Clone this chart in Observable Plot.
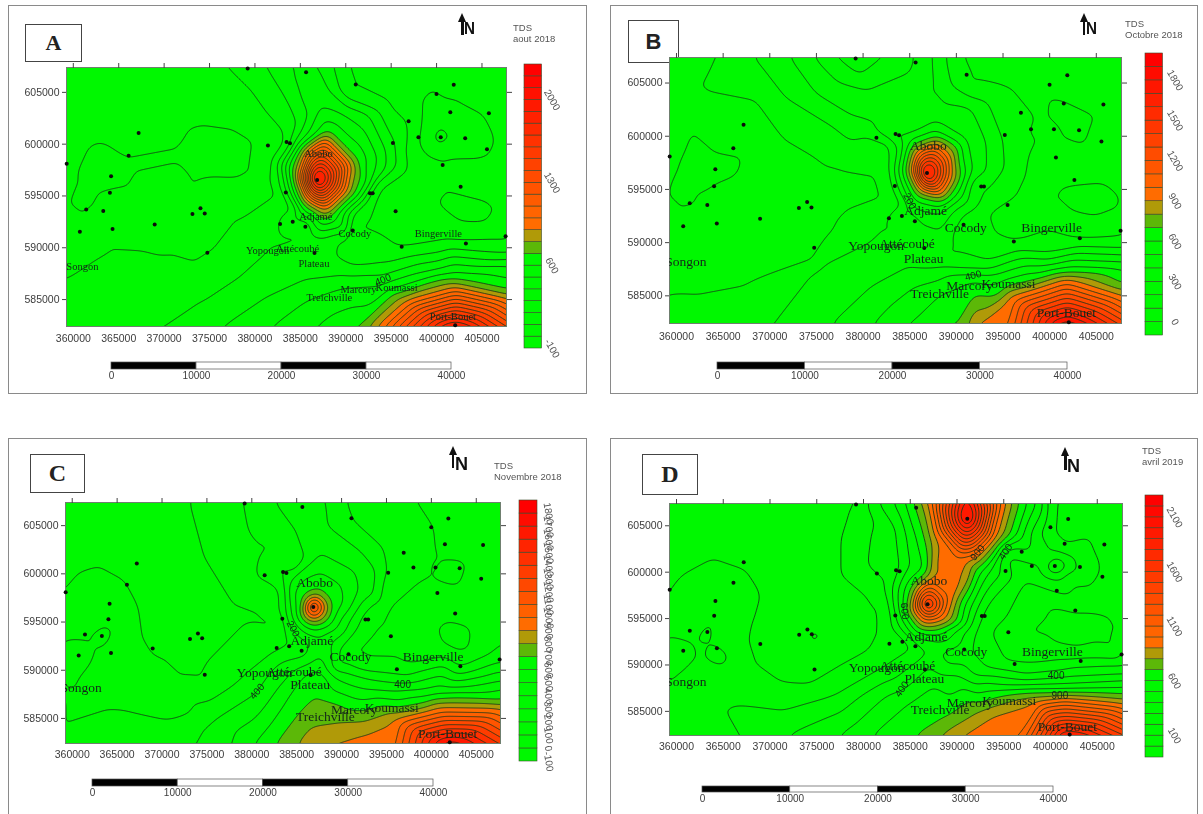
<!DOCTYPE html>
<html><head><meta charset="utf-8">
<script src="https://cdn.jsdelivr.net/npm/d3@7"></script>
<script src="https://cdn.jsdelivr.net/npm/@observablehq/plot@0.6"></script>
<style>
html,body{margin:0;padding:0;background:#fff;width:1203px;height:814px;overflow:hidden;font-family:"Liberation Sans",sans-serif}
#page{position:relative;width:1203px;height:814px;overflow:hidden;filter:blur(.4px)}
.abs{position:absolute}
.abs svg,svg.abs{display:block;background:transparent;overflow:visible}
.frame{position:absolute;border:1.5px solid #8a8a8a;box-sizing:border-box}
.box{position:absolute;border:1px solid #444;box-sizing:border-box;background:#fff;display:flex;align-items:center;justify-content:center;font-weight:bold;color:#222}
.ttl{position:absolute;font-size:9.5px;line-height:11px;color:#555;white-space:nowrap}
.stem{position:absolute;width:2.5px;background:#111}
.head{position:absolute;width:0;height:0;border-left:4px solid transparent;border-right:4px solid transparent;border-bottom:9px solid #111}
.nn{position:absolute;font-weight:bold;color:#111;line-height:1;transform-origin:left top}
</style></head><body><div id="page"></div>
<script>
// ---- shared map data (map coordinates, km) ----
const xTicks = [360000,365000,370000,375000,380000,385000,390000,395000,400000,405000];
const yTicks = [585000,590000,595000,600000,605000];
const stations = [[359.27,598.1],[367.19,601.08],[366.09,598.87],[364.16,596.9],[364.03,595.3],[361.42,593.7],[363.3,593.54],[360.72,591.54],[364.32,591.8],[368.96,592.25],[373.12,593.25],[374,593.82],[374.47,593.31],[374.76,589.52],[379.2,607.3],[381.43,599.86],[383.48,600.2],[383.86,600.09],[385.63,606.93],[386.85,596.55],[383.4,595.33],[382.77,592.3],[384.16,592.5],[385.55,592.02],[386.56,589.5],[391.1,605.77],[390.77,591.67],[392.66,595.27],[392.96,595.27],[395.19,600.12],[395.49,593.53],[396.16,590.1],[396.92,602.2],[398,600.66],[399.99,604.84],[400.46,600.66],[401.89,605.74],[401.51,603.07],[403.15,600.57],[405.76,602.98],[405.55,599.5],[400.67,598],[402.65,595.88],[403.23,590.42],[407.6,591.12],[402.05,582.52]];
const placeNames = ["Songon","Abobo","Adjamé","Yopougon","Attécoubé","Plateau","Cocody","Bingerville","Marcory","Koumassi","Treichville","Port-Bouet"];
const placeX = [361,387,386.7,381.4,384.7,386.5,391,400.2,391.4,395.6,388.2,401.8];
const placeY = [588.2,599.1,593.05,589.7,589.9,588.5,591.4,591.4,585.95,586.15,585.2,583.4];

// ---- panel A: aout 2018. Each entry: contour level, then x,y pairs read along that isoline ----
const contoursA = [
[100,[359.3,594.6,360.5,597.2,361.7,599.4,363.2,600,365.1,598.9,366.6,596.8,366.2,595.5,363.8,595.5,362.6,593.6,361.1,592.7,359.4,593.8]],
[100,[371.8,600,372.7,601.5,374.4,601.9,377.7,601.5,380,600.3,380,597.1,378.1,596.6,375.2,596.7,373,595.4,372,597.8]],
[100,[398.1,600,398.3,604.2,399.4,605.6,401.5,604.2,405,602.6,406.3,600.3,405.3,598.7,400.5,598.7,398.6,599.4]],
[0,[399.3,600.7,400.5,601.9,401.7,600.7,400.5,599.5]],
[100,[399.8,594.7,400.9,595.5,405.9,594.4,406.6,593.3,405.5,592.3,402.6,592.5,400.5,593.8]],
[200,[377.3,607.3,379.4,605.5,381.5,602.9,383.4,601,383.5,600,382,598.1,382.6,595.2,379,593,375.6,594,373.9,593.3,375.8,589.4,373.5,588.1,369.7,589.1,364.7,592.4,363.6,591.4,363.4,589.4,359.3,587]],
[300,[381.4,607.3,383.6,604.2,384,600.2,382.4,598.1,383,595.5,384.5,593.3,385.5,592.3,385.3,590.4,383.6,591.4,382.8,593,381.1,591.4,380.7,589.1,374.4,584.9,364,582.4]],
[300,[388.7,607.3,389.3,605.2,393.7,603.2,395.4,600,395.6,598.1,393.1,596.2,390.8,593.3,389.1,590.7,389.1,589.1,390.8,588.3,394.1,588.5,400.5,589.6,407.7,589.4]],
[200,[390.1,607.3,390.4,605.2,394.6,603.9,396.5,599.4,396.7,597.8,393.5,595.8,392.7,594.2,390.8,591.7,390.8,589.7,395.8,589.9,401.3,590.7,407.7,590.7]],
[400,[383.9,607.3,384.9,604.8,384.5,600.3,382.8,598.1,383.4,595.5,384.9,592.6,387.2,591,389.9,591.4,392.3,595.2,394.4,597.5,394.4,599.4,392.5,602.9,388.3,605.2,387.2,607.3]],
[400,[376.5,582.4,380.7,584.9,385.7,586.9,389.9,587.3,394.1,587.3,398.4,588.5,407.7,588.9]],
[500,[381.9,582.4,385.7,584.9,389.9,586.2,394.1,586.4,399.6,587.8,407.7,588.3]],
[700,[391.6,582.4,396.3,585.6,402.1,586.9,407.7,585.9]],
[900,[393.5,582.4,396.7,584.9,402.1,586.2,407.7,585.1]],
[500,[387.2,603.6,389.9,602.8,393.5,598.7,392.9,596.2,389.9,592,387,591.5,384.7,593.1,383.8,595.8,383.4,598.1,384.7,600]],
[700,[388,601.2,391.2,598.4,391,595.2,388.3,593,385.7,593.9,384.3,596.8,385.3,599.7]],
[900,[387.8,600.7,390.6,598.1,390.1,595.5,387.8,593.6,385.7,594.6,384.7,596.8,385.7,599.4]]
];
const extrasA = [[386.9,596.6,2150],[402,581.8,2100],[363.5,597.5,70],[376,599,70],[403.5,601,70],[399.5,603,70],[403,593.5,70],[400.5,600.7,-20],[370,605,150],[369,595,150],[399,596,150],[405,597,150],[400,606.5,150],[362,586,250],[370,586.5,250],[386,606,450],
[355,612,150],[372,612,160],[380,612,320],[385,612,480],[391,612,180],[410,612,150],[412,595,150],[412,588.5,450],[412,585,900],[412,580,1400],[395,578,1100],[380,578,500],[365,578,320],[353,578,260],[353,595,150]];

// ---- panel B: octobre 2018 ----
const contoursB = [
[100,[359.2,595.3,360.4,597.7,361.6,600.5,363,601.1,365.7,600.2,367.1,598,366.5,596.4,364,595.5,363,594.7,362,593.1,360.4,592.8,359.2,593.9]],
[100,[399.8,594.2,401,595.2,405.9,595.6,407.6,594.2,407.4,592.8,405,592.4,402.3,592.9]],
[200,[399.4,600.6,400.5,601.6,401.6,600.6,400.5,599.6]],
[200,[397.5,600.6,397.8,601.4,398.1,600.6,397.8,599.8]],
[500,[383,600.2,383.6,601,384.3,600.2,383.6,599.5]],
[200,[359.2,605.9,362.8,604.3,368.6,603.3,371.4,599.9,375.1,598,378.4,597.2,381.7,596.7,382.3,595.6,382.7,594.2,382.1,593.6,378.4,592.4,376.8,590.8,374.9,588,367.3,585.8,362.4,585,359.2,585.2]],
[300,[368.4,607.3,371.4,603.9,376,601.4,380.9,600,382.9,599.4,382.9,597,383.3,594.9,384.4,593.3,385.4,592,385.2,590.5,383.8,591.1,382.7,592.7,381.4,592,380.9,590.2,375.1,587.7,370.4,582.4]],
[400,[372.3,607.3,375.1,603.9,378.8,601.9,381.1,600.6,381.7,601.6,382.9,601.7,384.4,600.8,383.8,598.9,383.6,595.8,384.4,593,386.2,591.7,388.3,591.1,391,593.6,393.2,596.7,393.2,599.5,391.6,602.7,387.7,604.5,387.5,607.3]],
[500,[374.9,607.3,377.2,605.2,380.5,604.4,385.2,606.1,385.6,607.3]],
[600,[377.2,607.3,379.3,605.9,382.1,607.3]],
[300,[388.9,607.3,389.5,604.8,393.2,603.3,394.9,599.5,395.1,597,393.2,594.9,392,595.2,390.5,592.7,389.3,590.8,388.3,588.5,393.2,588.2,399.4,588.9,407.7,589.4]],
[200,[390.5,607.3,391.2,604.7,394.9,604.5,399.4,606.2,400.6,603.6,404.7,601.9,403.9,599.2,397.7,598.4,397.3,596.1,393.2,592.7,394,590.8,396.3,590,400.2,591.1,403.5,590.3,407.7,590.6]],
[400,[376.8,582.4,380.9,585.8,385,587.7,388.3,587.8,393.2,587.5,399.4,588.5,407.7,588.9]],
[500,[381.1,582.4,385.4,585.8,389.1,587,393.2,587,399.4,587.8,407.7,588.2]],
[600,[385,582.4,388.3,585.2,391.6,586.4,395.3,586.5,400.2,587.4,407.7,587.5]],
[700,[390.3,582.4,394.4,584.9,398.1,586.4,401.8,587.1,407.7,586.1]],
[900,[392.2,582.4,395.7,584.9,401.8,586.6,407.7,585]],
[500,[387.7,601.3,391,599.5,391.6,596.7,390,593.9,388.3,592.7,385.4,593.3,384.1,595.8,384.1,598,385.6,600.5]],
[700,[387.9,599.9,390.1,598,390.1,595.5,388.3,593.9,385.8,594.4,384.6,596.7,385.6,599.2]],
[900,[387.9,599.4,389.5,598,389.5,596.1,388.3,594.4,386.2,594.9,385.2,596.8,385.8,598.7]]
];
const extrasB = [[386.8,596.5,1850],[401.9,581.8,2000],[363.5,597.5,70],[404,594,70],[400.5,600.6,180],[397.8,600.6,180],[383.6,600.2,560],[379.3,607.3,650],[365,600,150],[370,596,150],[365,592,150],[398,594,150],[405,598,150],[404,605,150],[402,601,250],[364,583.5,240],[379.5,606,620],
[353,610,150],[365,612,170],[372,612,380],[379,612,720],[385,612,480],[390,612,250],[395,612,150],[410,612,150],[412,595,150],[412,588,500],[412,585,900],[412,580,1400],[395,578,1100],[380,578,450],[365,578,280],[353,578,220],[353,595,120]];

// ---- panel C: novembre 2018 ----
const contoursC = [
[200,[359.2,598.1,360.9,600,363,600.6,365.6,599.3,367.1,596.7,367.5,593.9,369,591.5,372,588.9,374.6,588.7,375.6,590.5,374.4,593.2,377.1,594.8,379.7,594.4,382.7,593.9,383,595.3,381,596.5,377.6,597.7,374.6,602.2,373.1,607.4]],
[300,[359.2,593.4,362.4,592.5,362.2,590.5,360.5,588.7,359.2,588.2]],
[300,[362.5,593.2,363.7,594.7,364.7,594.3,364.1,592.9,362.6,592.5]],
[300,[359.2,583.9,365.6,585.8,373.3,586.5,378.4,588.7,382.7,591.9,385.3,592.4,383.8,593.9,383.3,595.7,383.3,598.4,384.4,600.8,382.7,602.9,379.7,604.3,379.1,607.4]],
[400,[368.4,582.4,375.9,584.9,380.6,587.7,382.7,590.5,386.1,591.5,384.8,593.9,383.8,595.7,383.8,598.1,385,600.5,384.8,604.7,382.7,607.4]],
[400,[388.2,607.4,388.5,605,391.9,602.6,394,600.2,393.6,597.7,390.4,593.9,389.1,591.5,390.4,589.8,392.9,589.1,396.4,588.6,403.2,588.9,407.7,589.9]],
[300,[390.4,607.4,391.2,605.3,394.4,602.6,394.7,600.2,393.6,597,392.3,595.7,389.7,591.9,389.5,590.5,392.9,590,397.2,589.4,403.2,589.6,407.7,590.8]],
[200,[398.3,607.4,400.2,604.7,400.4,602.4,403.8,601.2,403,598.8,398.5,599.1,395.1,596.3,393.2,594.6,390.6,591.9,392.9,590.6,397.2,590.5,403.2,590.3,407.7,592.5]],
[100,[400.6,594.3,401.7,595.1,404.5,594.3,404.1,591.9,402.8,591.9,401.5,592.5]],
[300,[380.4,599.9,381,600.7,381.6,599.9,381,599.1]],
[400,[382.9,600.3,383.5,601.1,384.1,600.3,383.5,599.5]],
[500,[385.3,606.9,385.7,607.3,386.1,606.9,385.7,606.5]],
[200,[399.9,600.7,400.4,601.3,400.9,600.7,400.4,600.1]],
[500,[387.6,602.1,391.5,600.2,391.9,598.1,389.7,595,387.6,593.6,384.8,595,384.1,598.1,385.5,600.5]],
[600,[387.6,600.2,390,598.8,390.2,596.7,388.7,594.6,387,594.1,385,595.7,384.6,598.1,385.7,599.5]],
[700,[387.4,598.3,388.7,597,388.2,595.1,386.5,594.8,385.7,596.7,386.1,597.7]],
[900,[387.2,597.7,388.2,596.7,387.6,595.5,386.5,595.3,385.9,596.5,386.3,597.4]],
[500,[377.8,582.4,381.8,586.7,384.8,590.1,387.4,591.5,389.5,589.1,392.9,588,396.4,587.9,403.2,588.2,407.7,588.9]],
[600,[380.3,582.4,383.5,586.3,385.7,589.1,387.4,590.1,388.7,588,391.7,587,396.4,586.8,401.1,587.5,407.7,588]],
[700,[382.7,582.4,385.3,585.6,386.3,588.7,387.4,588.7,388.7,586.8,392.5,585.8,398.9,586.5,407.7,586.8]],
[800,[385,582.4,386.5,584.1,390.4,584.6,395.5,585.6,400.2,586.7,407.7,586.4]],
[900,[388.7,582.4,392.5,583.5,395.9,584.9,401.1,586.1,407.7,586]]
];
const extrasC = [[386.8,596.6,1500],[402.1,582,1850],[402.8,593.5,70],[359.3,590.7,320],[363.6,593.6,320],[381,599.9,320],[383.5,600.3,420],[385.7,606.9,520],[400.4,600.7,180],[370,603,150],[372,596,150],[405,597,150],[405,604,150],[402,600,250],[386,605,450],[365,590,250],[372,586,250],
[353,610,150],[370,612,150],[376,612,220],[385,612,450],[389,612,350],[395,612,250],[403,612,150],[412,610,150],[412,595,150],[412,590,300],[412,587,750],[412,580,1400],[395,578,1000],[382,578,650],[370,578,380],[353,578,320],[353,595,220]];

// ---- panel D: avril 2019 ----
const contoursD = [
[200,[359.1,596.4,360.6,599.3,363.9,601.1,367.2,600,368.8,597.5,368,594.6,367.6,592.4,368.3,590.3,371.3,588.1,374.2,587.9,377.5,589.9,380.8,591.7,382.2,593.2,382.4,594.6,382.2,596.2,380.4,597.5,377.9,599.6,377.9,603.6,378.7,606.1,379.6,607.3]],
[300,[359.1,583.6,365.6,585.8,371.3,585.1,377.5,587,382,589.6,385.5,591.9,382.9,594.2,382.5,597.8,382.4,599.1,380.4,600.7,380.4,607.3]],
[400,[381.6,607.3,383.7,604.3,384.1,600.7,383.1,598.5,383.5,595,385.7,592.1,388,591.4,392.3,596.4,394.4,600.7,397.7,603.9,399.3,607.3]],
[500,[383.3,607.3,384.5,603.9,384.9,600.7,383.7,598.2,384,595.3,385.7,592.8,388.2,592.4,391.7,596.7,393.6,600.3,397.1,603.6,398.5,607.3]],
[600,[384.5,607.3,385.7,603.6,386.6,600.3,384.5,598.5,384.3,596,385.7,593.5,388.2,593.3,390.9,596.7,392.7,600.3,396.4,603.9,397.5,607.3]],
[700,[385.5,607.3,386.6,603.6,387,600,385.1,598.2,384.7,596.4,385.7,594.2,388.2,594,390.3,596.7,391.9,600.3,395.6,603.9,396.6,607.3]],
[900,[387,607.3,387.8,603.6,387.4,600,385.7,597.8,385.3,596.4,386.2,594.6,388.2,594.6,389.6,596.7,391.1,600,394,603.6,395.2,607.3]],
[1000,[387.2,598.9,389,597.1,388.4,595.3,386.6,594.8,385.5,596.2,386.2,598.2]],
[1000,[387.4,607.3,388,604.3,390.3,601.6,391.9,601.9,394,605,394.6,607.3]],
[300,[399.7,607.3,395.2,601.8,393.1,596.4,392.1,593.9,391.5,591.4,393.1,589.6,397.3,589,401.4,589.4,407.8,589.9]],
[200,[400.3,607.3,400.1,604.3,401.6,602.8,404.9,601.4,404.9,599.6,397.3,599.1,393.6,593.5,395.2,590.3,397.3,590.1,401.4,590.6,407.8,592.4]],
[100,[397.5,593.9,400.1,596.6,403,595.7,406.3,595.5,407.6,593.9,407.1,591.4,403.2,591.7,400.6,592.1,397.7,593.2]],
[300,[398.9,600.7,400.1,602.3,402.4,601.6,402.8,600,401,599.1,399.3,599.6]],
[400,[399.5,600.7,400.6,601.6,401.8,600.7,400.6,599.8]],
[500,[400.1,600.6,400.6,601.1,401.1,600.6,400.6,600.1]],
[400,[371.7,582.4,377.5,584.9,383.3,588.5,386.4,590.8,389,589.9,391.9,588.8,397.3,588.3,401.4,588.7,407.8,589]],
[500,[377.3,582.4,382.4,586.7,387,589.9,389.9,589,393.1,588.1,401.4,587.9,407.8,588.3]],
[600,[380.8,582.4,384.9,586,387.4,587.8,393.1,587.2,401.4,587.4,407.8,587.6]],
[700,[385.7,582.4,388.6,584.2,393.1,586.1,401.4,587,407.8,586.8]],
[800,[388.2,582.4,392.3,584.9,397.3,586.5,401.4,586.7,407.8,586.3]],
[900,[390.5,582.4,394,584.7,398.5,586.1,401.4,586.5,407.8,585.8]],
[300,[362.6,593.5,363.2,594.2,363.8,593.5,363.2,592.8]],
[300,[359.1,593.3,361.7,591.7,361.3,589.9,359.1,588.1]],
[300,[363.5,591.4,364.5,592.1,365.6,591,365.2,589.9,364.3,590.1]],
[100,[374.1,593,374.8,593.7,375.5,593,374.8,592.4]],
[300,[365.4,598.4,365.8,599,366.2,598.4,365.8,597.9]]
];
const extrasD = [[386.8,596.5,1700],[391.1,605.8,2150],[402,581.7,2100],[402.5,594,70],[400.6,600.6,560],[363.2,593.5,330],[359.3,590.7,330],[364.6,591,330],[374.8,593,80],[365.8,598.4,330],[370,603,150],[373,596,150],[405,605,150],[405,597.5,150],[402,599.7,250],[365,588,250],[391,610,1800],
[353,610,150],[372,612,150],[381,612,300],[398,612,450],[405,612,150],[412,600,150],[412,595,150],[412,590,280],[412,586,900],[412,580,1600],[395,578,1100],[382,578,550],[370,578,300],[353,578,280],[353,595,200]];

// ---- legend levels and tick labels ----
const legendTopA = 2300, legendTopB = 2000, legendTopC = 1900, legendTopD = 2300;
const legendTicksA = [2000,1300,600,-100];
const legendTicksB = [1800,1500,1200,900,600,300,0];
const legendTicksC = [1800,1700,1600,1500,1400,1300,1200,1100,1000,900,800,700,600,500,400,300,200,100,0,-100];
const legendTicksD = [2100,1600,1100,600,100];
const scaleLabels = [0,10000,20000,30000,40000];
const contourLabelsA = [["400",394.1,586.9,-22]];
const contourLabelsB = [["400",391.8,586.9,-15],["200",385,593.9,62]];
const contourLabelsC = [["400",380.6,587.8,-50],["400",396.8,588.5,0],["200",384.6,594.3,62]];
const contourLabelsD = [["400",384.1,587.4,-55],["400",400.6,588.8,0],["900",401,586.7,0],["900",392.2,602.1,-50],["400",395.2,602.2,-55],["600",384.4,595.8,85]];

const panels = [
 {letter:"A",letterFont:"Liberation Serif",letterSize:22,frame:[8,5,579,389],box:[25,24,57,38],title:["TDS","aout 2018"],titlePos:[513,22],
  north:[461,13,16,22],plot:[66,67,506,326],leg:[524,64,541.5,348],legTop:legendTopA,legTicks:legendTicksA,legRot:60,legDx:10,tickPad:8,
  bar:[111,362,451,369],contours:contoursA,extras:extrasA,cLabels:contourLabelsA,nameSize:10.5},
 {letter:"B",letterFont:"Liberation Sans",letterSize:22,frame:[610,5,588,389],box:[628,20,51,43],title:["TDS","Octobre 2018"],titlePos:[1125,18],
  north:[1082.5,13,16,22],plot:[669,57,1121,323],leg:[1145,53,1162.5,335],legTop:legendTopB,legTicks:legendTicksB,legRot:60,legDx:12,tickPad:9,
  bar:[717,362,1067,369],contours:contoursB,extras:extrasB,cLabels:contourLabelsB,nameSize:13.5},
 {letter:"C",letterFont:"Liberation Serif",letterSize:24,frame:[8,438,579,400],box:[30,454,55,39],title:["TDS","Novembre 2018"],titlePos:[494,460],
  north:[451.6,446,19,22],plot:[65,502,500,743],leg:[519,500,537,761],legTop:legendTopC,legTicks:legendTicksC,legRot:80,legDx:11,tickPad:7,
  bar:[92,779,433,786],contours:contoursC,extras:extrasC,cLabels:contourLabelsC,nameSize:13.5},
 {letter:"D",letterFont:"Liberation Serif",letterSize:24,frame:[610,438,588,400],box:[642,454,56,41],title:["TDS","avril 2019"],titlePos:[1142,445],
  north:[1064,447,19,23],plot:[669,503,1122,735],leg:[1144.5,495,1162.5,757],legTop:legendTopD,legTicks:legendTicksD,legRot:60,legDx:11,tickPad:7,
  bar:[702,786,1053,792],contours:contoursD,extras:extrasD,cLabels:contourLabelsD,nameSize:13.5}
];

const xDomain = [359250,407700], yDomain = [582400,607400];
const gridBounds = {x1:355000,x2:412000,y1:578500,y2:611500};
const page = document.getElementById("page");
const tickFill = "#3c3c3c";

function place(node,left,top){node.classList.add("abs");node.style.position="absolute";node.style.left=left+"px";node.style.top=top+"px";page.appendChild(node);return node;}
function el(cls,left,top,w,h,html){const d=document.createElement("div");d.className=cls;d.style.left=left+"px";d.style.top=top+"px";if(w!=null)d.style.width=w+"px";if(h!=null)d.style.height=h+"px";if(html!=null)d.innerHTML=html;page.appendChild(d);return d;}
function levelsUpTo(top){const out=[];for(let v=-100;v<top;v+=100)out.push(v);return out;}
function colorOf(level,top){
  if(level<700) return "#00f800";
  if(level<800) return "#5cb808";
  if(level<900) return "#b09a08";
  const t=(level-900)/Math.max(100,top-1000);
  return d3.interpolateRgb("#ff6c00","#ff0000")(Math.min(1,t));
}
function rowsOf(contours,extras){
  const rows=[];
  for(const [v,pts] of contours) for(let i=0;i<pts.length;i+=2) rows.push({x:pts[i]*1000,y:pts[i+1]*1000,v});
  for(const [x,y,v] of extras) rows.push({x:x*1000,y:y*1000,v});
  return rows;
}

for(const p of panels){
  el("frame",p.frame[0],p.frame[1],p.frame[2],p.frame[3]);
  const box=el("box",p.box[0],p.box[1],p.box[2],p.box[3],p.letter);
  box.style.fontFamily=`"${p.letterFont}"`;box.style.fontSize=p.letterSize+"px";
  el("ttl",p.titlePos[0],p.titlePos[1],null,null,p.title.join("<br>"));
  const [nx,ny,nw,nh]=p.north;
  el("head",nx-3,ny,null,null);
  el("stem",nx,ny+7,null,nh-7);
  const n=el("nn",nx+3,ny+nh-14,null,null,"N");
  n.style.fontSize=nw+"px";n.style.transform="scale(.95,1.0)";

  const levels=levelsUpTo(p.legTop+100);
  const colors=levels.map(l=>colorOf(l,p.legTop));
  const color={type:"threshold",domain:levels.slice(1),range:colors};
  const isoLevels=levels.map(l=>l+0.5); // just above the read values, so flat stretches stay on one side
  const [L,T,R,B]=p.plot;
  const mL=56,mR=12,mT=10,mB=30;
  const rows=rowsOf(p.contours,p.extras);
  const st=stations.map(([x,y])=>({x:x*1000,y:y*1000}));
  const names=placeNames.map((name,i)=>({name,x:placeX[i]*1000,y:placeY[i]*1000}));
  const cl=p.cLabels.map(([t,x,y,r])=>({t,x:x*1000,y:y*1000,r}));
  const fmt=d=>String(d);
  const map=Plot.plot({
    width:R-L+mL+mR,height:B-T+mT+mB,marginLeft:mL,marginRight:mR,marginTop:mT,marginBottom:mB,
    style:{background:"transparent",fontFamily:"Liberation Sans",overflow:"visible"},
    x:{domain:xDomain,label:null},y:{domain:yDomain,label:null},color,
    marks:[
      Plot.contour(rows,{x:"x",y:"y",fill:"v",stroke:"#17361a",strokeWidth:0.95,strokeOpacity:0.9,thresholds:isoLevels,interpolate:"barycentric",blur:4,pixelSize:1,clip:true,...gridBounds}),
      Plot.frame({stroke:"#6f7f6f",strokeWidth:1}),
      Plot.axisX({anchor:"bottom",ticks:xTicks,tickFormat:fmt,tickSize:0,tickPadding:p.tickPad,fontSize:10.5,fill:tickFill,label:null}),
      Plot.axisX({anchor:"top",ticks:xTicks,tickFormat:()=>"",tickSize:5,stroke:"#444",label:null}),
      Plot.axisY({anchor:"left",ticks:yTicks,tickFormat:fmt,tickSize:4,tickPadding:3,fontSize:10.5,fill:tickFill,stroke:"#444",label:null}),
      Plot.axisY({anchor:"right",ticks:yTicks,tickFormat:()=>"",tickSize:5,stroke:"#444",label:null}),
      Plot.dot(st,{x:"x",y:"y",r:2,fill:"#0c0c0c"}),
      Plot.text(names,{x:"x",y:"y",text:"name",clip:true,fontFamily:"Liberation Serif",fontSize:p.nameSize,fill:"#14261a"}),
      Plot.text(cl,{x:"x",y:"y",text:"t",rotate:"r",fontSize:10,fill:"#14261a"})
    ]
  });
  place(map,L-mL,T-mT);

  // legend column
  const [lx1,ly1,lx2,ly2]=p.leg;
  const bands=levels.map(l=>({lo:l,hi:Math.min(l+100,p.legTop)}));
  const leg=Plot.plot({
    width:lx2-lx1+34,height:ly2-ly1+22,marginLeft:0,marginRight:34,marginTop:2,marginBottom:20,
    style:{background:"transparent",fontFamily:"Liberation Sans",overflow:"visible"},
    x:{domain:[0,1],axis:null},y:{domain:[-100,p.legTop],axis:null},color,
    marks:[
      Plot.rect(bands,{x1:()=>0,x2:()=>1,y1:"lo",y2:"hi",fill:"lo",stroke:"#3a4a2a",strokeWidth:0.6}),
      Plot.text(p.legTicks,{x:()=>1,y:d=>d,text:d=>String(d),dx:p.legDx,rotate:p.legRot,fontSize:10,fill:"#555"})
    ]
  });
  place(leg,lx1,ly1-2);

  // distance bar
  const [bx1,by1,bx2,by2]=p.bar;
  const segs=scaleLabels.slice(0,-1).map((v,i)=>({a:v,b:scaleLabels[i+1],on:i%2===0}));
  const bar=Plot.plot({
    width:bx2-bx1+40,height:by2-by1+24,marginLeft:20,marginRight:20,marginTop:1,marginBottom:23,
    style:{background:"transparent",fontFamily:"Liberation Sans",overflow:"visible"},
    x:{domain:[0,40000],label:null},y:{domain:[0,1],axis:null},
    marks:[
      Plot.rect(segs,{x1:"a",x2:"b",y1:()=>0,y2:()=>1,fill:d=>d.on?"#000":"#fff",stroke:"#555",strokeWidth:0.7}),
      Plot.axisX({anchor:"bottom",ticks:scaleLabels,tickFormat:String,tickSize:0,tickPadding:2,fontSize:10,fill:tickFill,label:null})
    ]
  });
  place(bar,bx1-20,by1-1);
}
</script></body></html>
